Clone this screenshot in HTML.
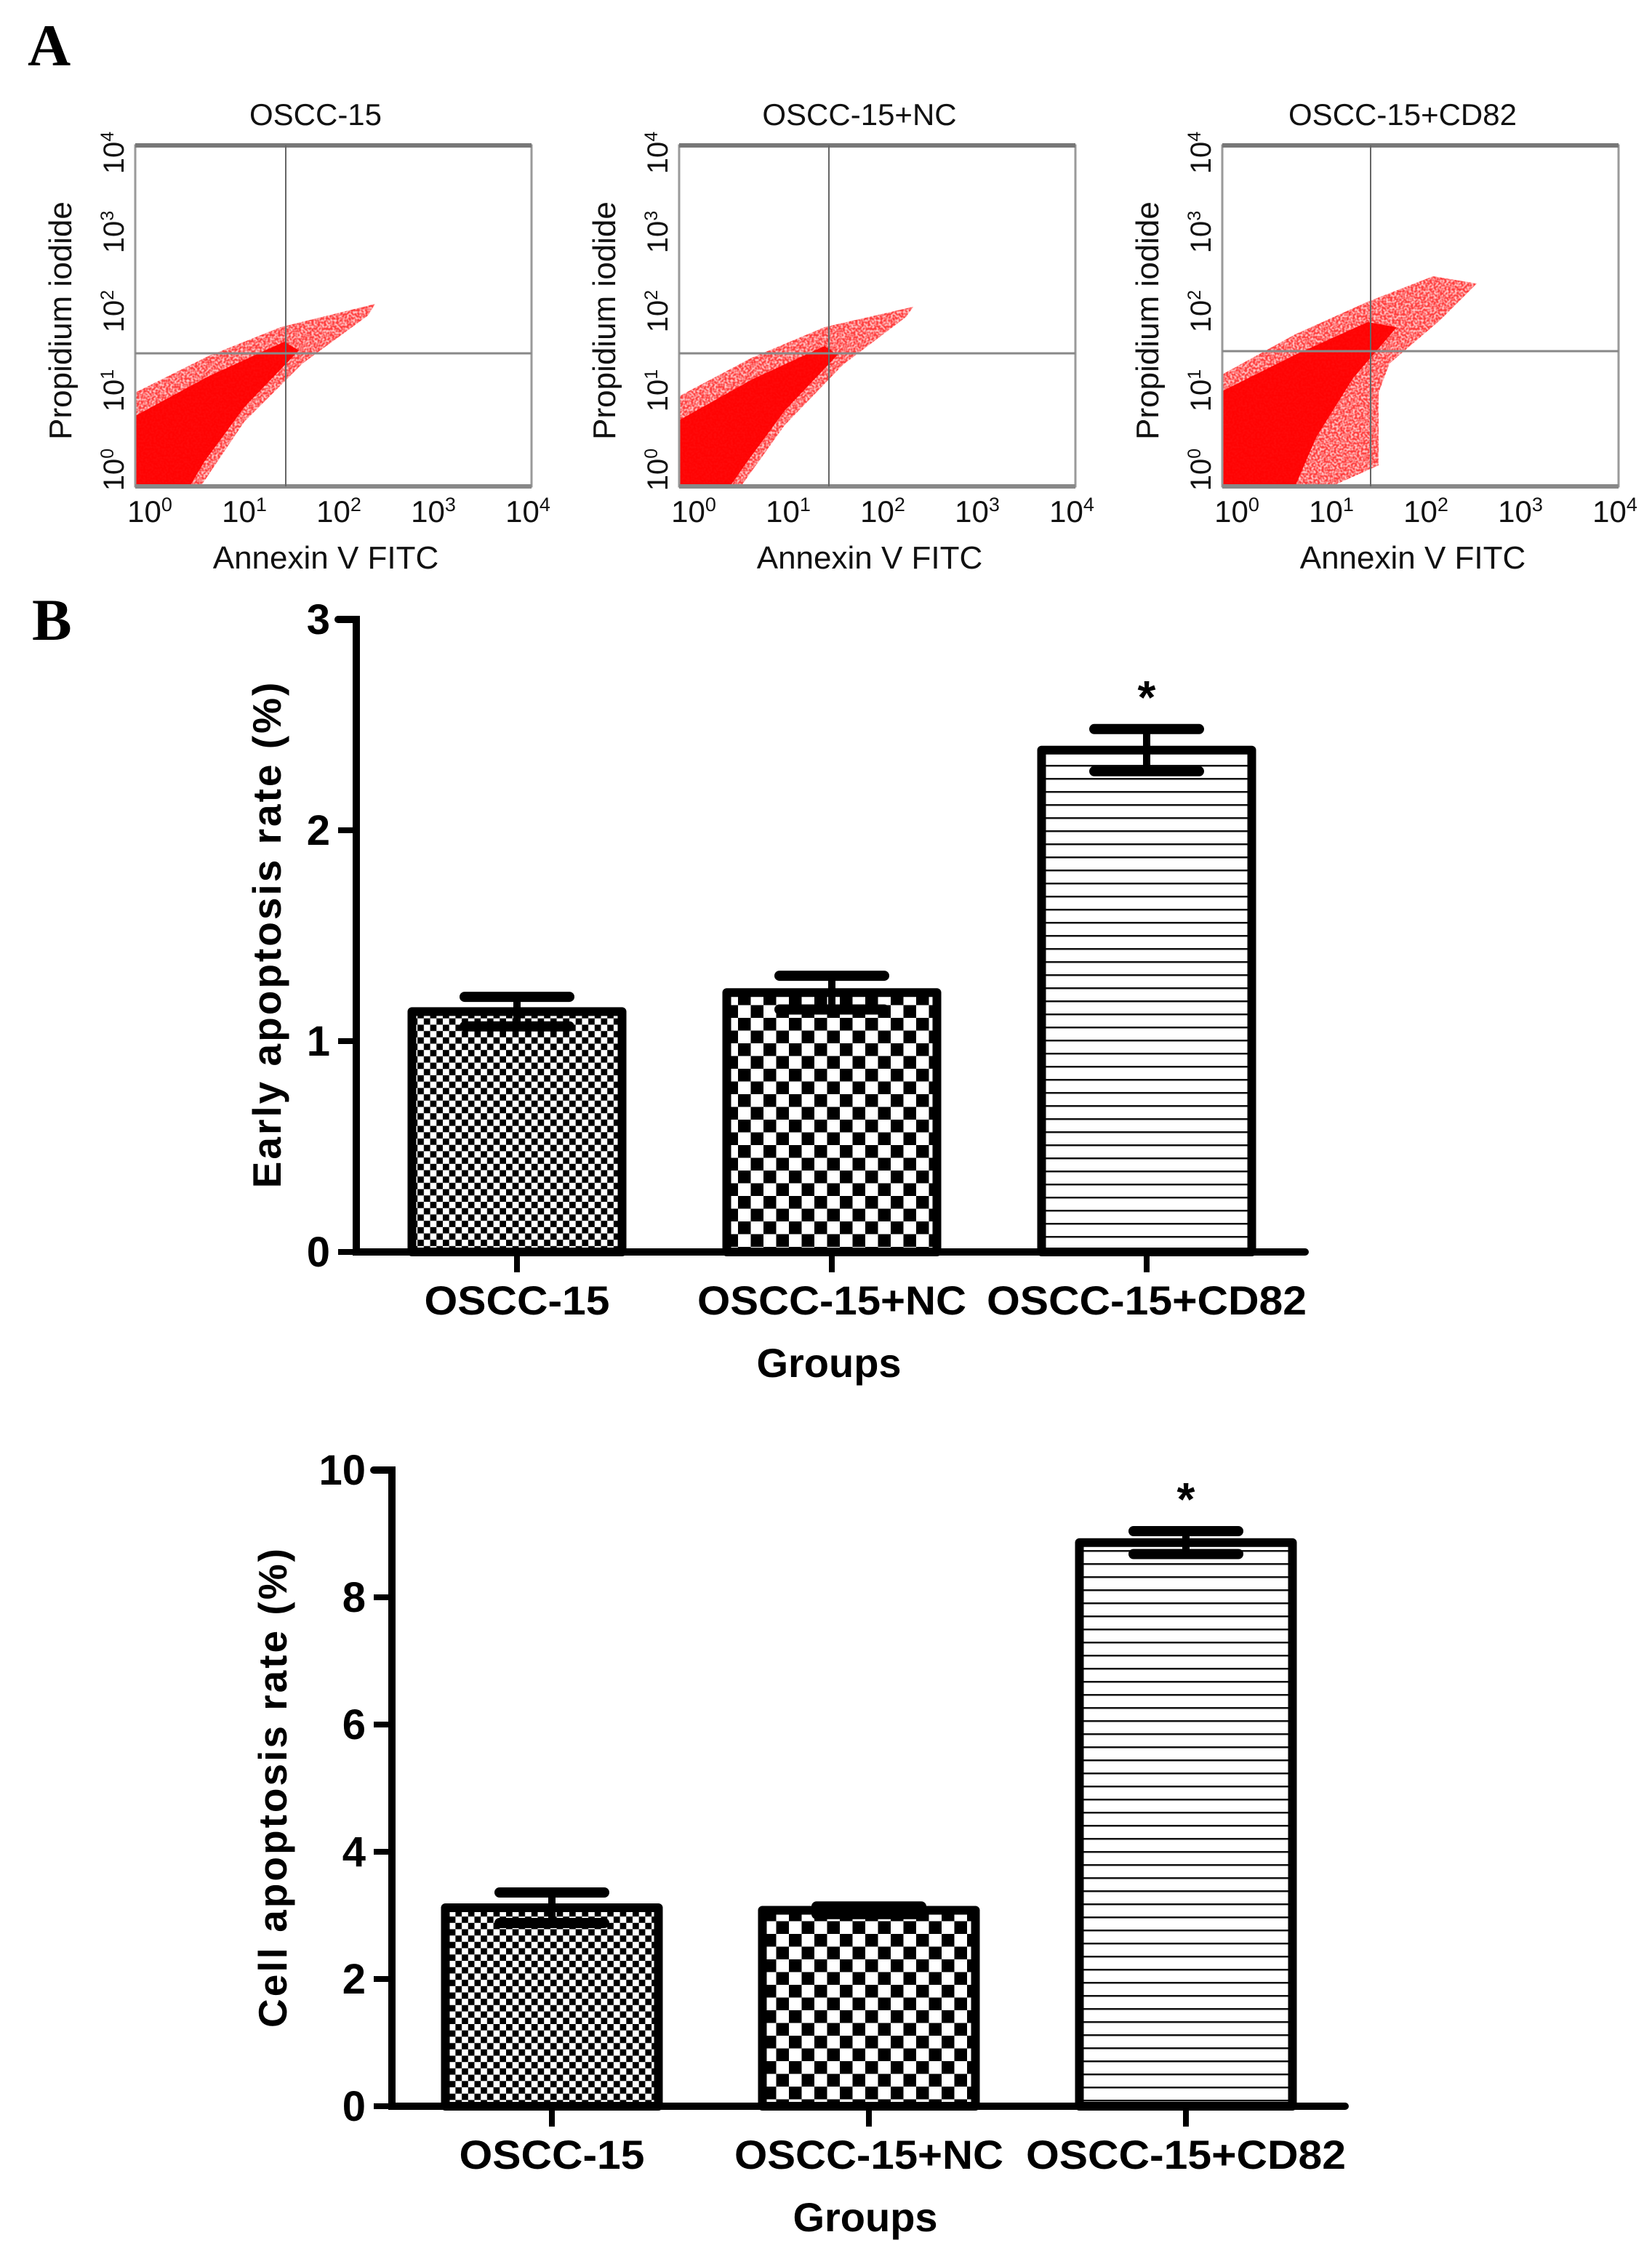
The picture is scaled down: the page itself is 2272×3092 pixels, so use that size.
<!DOCTYPE html>
<html><head><meta charset="utf-8"><style>
html,body{margin:0;padding:0;background:#fff;}
svg{display:block;}
</style></head><body>
<svg id="fig" width="2272" height="3092" viewBox="0 0 2272 3092" xmlns="http://www.w3.org/2000/svg">
<defs>
<pattern id="fineCheck" width="17.4" height="17.4" patternUnits="userSpaceOnUse">
<rect width="17.4" height="17.4" fill="#fff"/><rect width="8.7" height="8.7" fill="#000"/><rect x="8.7" y="8.7" width="8.7" height="8.7" fill="#000"/></pattern>
<pattern id="bigCheck" width="35" height="35" patternUnits="userSpaceOnUse">
<rect width="35" height="35" fill="#fff"/><rect width="17.5" height="17.5" fill="#000"/><rect x="17.5" y="17.5" width="17.5" height="17.5" fill="#000"/></pattern>
<pattern id="hlines" width="20" height="18" patternUnits="userSpaceOnUse">
<rect width="20" height="18" fill="#fff"/><rect y="8" width="20" height="2.5" fill="#111"/></pattern>
<filter id="speck" x="-10%" y="-10%" width="120%" height="120%">
<feTurbulence type="fractalNoise" baseFrequency="0.35" numOctaves="1" seed="3" result="n"/>
<feColorMatrix in="n" type="matrix" values="0 0 0 0 0  0 0 0 0 0  0 0 0 0 0  0 0 0 3 -0.9" result="m"/>
<feComposite in="SourceGraphic" in2="m" operator="in"/>
</filter>
</defs>
<text x="38" y="90" font-family="Liberation Serif, serif" font-weight="bold" font-size="82">A</text>
<text x="44" y="880" font-family="Liberation Serif, serif" font-weight="bold" font-size="82">B</text>
<g id="flow"></g>
<g id="chart1"></g>
<g id="chart2"></g>
</svg>
<script>
const NS = "http://www.w3.org/2000/svg";
function mk(parent, tag, attrs, text) {
  const e = document.createElementNS(NS, tag);
  for (const k in attrs) e.setAttribute(k, attrs[k]);
  if (text !== undefined) e.textContent = text;
  parent.appendChild(e);
  return e;
}

// ---------- Flow cytometry panels ----------
const flowTitles = ["OSCC-15", "OSCC-15+NC", "OSCC-15+CD82"];
const flowOffsets = [0, 748, 1495];
const flowVLine = [207, 206, 204];
const flowHLine = [286, 286, 283];
const cloudOuter = [
 "0,340 100,290 200,250 330,218 320,234 230,300 150,380 90,469 0,469",
 "0,345 100,292 200,250 322,222 312,236 225,302 145,385 85,469 0,469",
 "0,315 100,260 200,215 290,180 350,190 300,240 230,300 215,340 215,440 150,469 0,469"
];
const cloudDense = [
 "0,372 100,318 205,270 225,282 150,360 95,435 75,469 0,469",
 "0,378 100,322 200,276 218,288 145,365 90,440 70,469 0,469",
 "0,338 100,288 200,243 240,250 180,320 130,400 100,469 0,469"
];
const xTickLbl = ["0","1","2","3","4"];
const flowG = document.getElementById("flow");
flowTitles.forEach((t, i) => {
  const ox = 186 + flowOffsets[i], oy = 200, w = 545, h = 469;
  const g = mk(flowG, "g", {});
  
  
  const tt = mk(g, "text", {x: ox + 248, y: 172, "font-family": "Liberation Sans, sans-serif", "font-size": "42", "text-anchor": "middle", fill: "#111"}, t);
  
  
  const c1 = mk(g, "polygon", {points: cloudOuter[i], transform: `translate(${ox},${oy})`, fill: "#ff1010", opacity: "0.8", filter: "url(#speck)"});
  
  
  const c2 = mk(g, "polygon", {points: cloudOuter[i], transform: `translate(${ox},${oy})`, fill: "#ff4040", opacity: "0.3"});
  
  
  const c3 = mk(g, "polygon", {points: cloudDense[i], transform: `translate(${ox},${oy})`, fill: "#ff0000", opacity: "0.95"});
  
  
  const fr = mk(g, "rect", {x: ox, y: oy, width: w, height: h, fill: "none", stroke: "#9a9a9a", "stroke-width": "3"});
  
  
  mk(g, "line", {x1: ox, x2: ox + w, y1: oy, y2: oy, stroke: "#777", "stroke-width": "6"});
  mk(g, "line", {x1: ox, x2: ox + w, y1: oy + h, y2: oy + h, stroke: "#888", "stroke-width": "6"});
  const vl = mk(g, "line", {x1: ox + flowVLine[i], x2: ox + flowVLine[i], y1: oy, y2: oy + h, stroke: "#666", "stroke-width": "2"});
  
  
  const hl = mk(g, "line", {x1: ox, x2: ox + w, y1: oy + flowHLine[i], y2: oy + flowHLine[i], stroke: "#888", "stroke-width": "3"});
  
  
  xTickLbl.forEach((p, k) => {
    const tx = mk(g, "text", {x: ox + 20 + k * 130, y: 718, "font-family": "Liberation Sans, sans-serif", "font-size": "42", "text-anchor": "middle", fill: "#111"});
    
    
    tx.appendChild(document.createTextNode("10"));
    mk(tx, "tspan", {dy: "-15", "font-size": "27"}, p);
    const ty = mk(g, "text", {transform: `translate(${ox - 16},${646 - k * 109}) rotate(-90)`, "font-family": "Liberation Sans, sans-serif", "font-size": "40", "text-anchor": "middle", fill: "#111"});
    
    
    ty.appendChild(document.createTextNode("10"));
    mk(ty, "tspan", {dy: "-14", "font-size": "25"}, p);
  });
  const xl = mk(g, "text", {x: ox + 262, y: 782, "font-family": "Liberation Sans, sans-serif", "font-size": "44", "text-anchor": "middle", fill: "#111"}, "Annexin V FITC");
  
  
  const yl = mk(g, "text", {transform: `translate(${ox - 88},441) rotate(-90)`, "font-family": "Liberation Sans, sans-serif", "font-size": "44", "text-anchor": "middle", fill: "#111"}, "Propidium iodide");
  
  
});

// ---------- Bar chart data ----------
const categories = ["OSCC-15", "OSCC-15+NC", "OSCC-15+CD82"];
const earlyValues = [1.14, 1.23, 2.38];
const earlyErrors = [0.07, 0.08, 0.10];
const earlyTicks = [0, 1, 2, 3];
const cellValues = [3.12, 3.08, 8.86];
const cellErrors = [0.24, 0.06, 0.18];
const cellTicks = [0, 2, 4, 6, 8, 10];
const sigMarks = ["", "", "*"];
const fills = ["url(#fineCheck)", "url(#bigCheck)", "url(#hlines)"];

function barChart(gid, cfg, values, errors, ticks) {
  const g = document.getElementById(gid);
  const yMax = ticks[ticks.length - 1];
  const yS = v => cfg.y0 - (v / yMax) * (cfg.y0 - cfg.yTop);
  const xC = i => cfg.x0 + i * cfg.step;
  const f = "Liberation Sans, sans-serif";
  values.forEach((v, i) => {
    const b = mk(g, "rect", {x: xC(i) - cfg.bw / 2, y: yS(v), width: cfg.bw, height: cfg.y0 - yS(v), fill: fills[i], stroke: "#000", "stroke-width": "12", "stroke-linejoin": "round"});
    
    
    const eg = mk(g, "g", {stroke: "#000", "stroke-linecap": "round"});
    
    
    mk(eg, "line", {x1: xC(i), x2: xC(i), y1: yS(v + errors[i]), y2: yS(v - errors[i]), "stroke-width": "10"});
    mk(eg, "line", {x1: xC(i) - 72, x2: xC(i) + 72, y1: yS(v + errors[i]), y2: yS(v + errors[i]), "stroke-width": "14"});
    mk(eg, "line", {x1: xC(i) - 72, x2: xC(i) + 72, y1: yS(v - errors[i]), y2: yS(v - errors[i]), "stroke-width": "14"});
    if (sigMarks[i]) {
      const s = mk(g, "text", {x: xC(i), y: yS(v + errors[i]) - 22, "font-family": f, "font-weight": "bold", "font-size": "64", "text-anchor": "middle"}, sigMarks[i]);
      
      
    }
    const tk = mk(g, "line", {x1: xC(i), x2: xC(i), y1: cfg.y0, y2: cfg.y0 + 28, stroke: "#000", "stroke-width": "8"});
    
    
    const lb = mk(g, "text", {x: xC(i), y: cfg.y0 + 86, "font-family": f, "font-weight": "bold", "font-size": "56", "text-anchor": "middle", textLength: cfg.lblW[i], lengthAdjust: "spacingAndGlyphs"}, categories[i]);
    
    
  });
  const ax = mk(g, "path", {d: `M${cfg.ax - 25} ${cfg.yTop} H${cfg.ax} V${cfg.y0} H${cfg.xEnd}`, fill: "none", stroke: "#000", "stroke-width": "10", "stroke-linecap": "round"});
  
  
  ticks.forEach(t => {
    mk(g, "line", {x1: cfg.ax - 25, x2: cfg.ax, y1: yS(t), y2: yS(t), stroke: "#000", "stroke-width": "8"});
    const tl = mk(g, "text", {x: cfg.ax - 36, y: yS(t) + 20, "font-family": f, "font-weight": "bold", "font-size": "58", "text-anchor": "end"}, String(t));
    
    
  });
  const yt = mk(g, "text", {transform: `translate(${cfg.titleX},${cfg.titleY}) rotate(-90)`, "font-family": f, "font-weight": "bold", "font-size": "55", "text-anchor": "middle", "letter-spacing": "3"}, cfg.title);
  
  
  const xt = mk(g, "text", {x: cfg.groupsX, y: cfg.y0 + 172, "font-family": f, "font-weight": "bold", "font-size": "56", "text-anchor": "middle"}, "Groups");
  
  
}

barChart("chart1", {x0: 711, step: 433, bw: 289, y0: 1722, yTop: 852, ax: 490, xEnd: 1795,
  title: "Early apoptosis rate (%)", titleX: 386, titleY: 1285, groupsX: 1140, lblW: [255, 370, 440]},
  earlyValues, earlyErrors, earlyTicks);
barChart("chart2", {x0: 759, step: 436, bw: 293, y0: 2897, yTop: 2022, ax: 539, xEnd: 1850,
  title: "Cell apoptosis rate (%)", titleX: 394, titleY: 2458, groupsX: 1190, lblW: [255, 370, 440]},
  cellValues, cellErrors, cellTicks);
</script>
</body></html>
